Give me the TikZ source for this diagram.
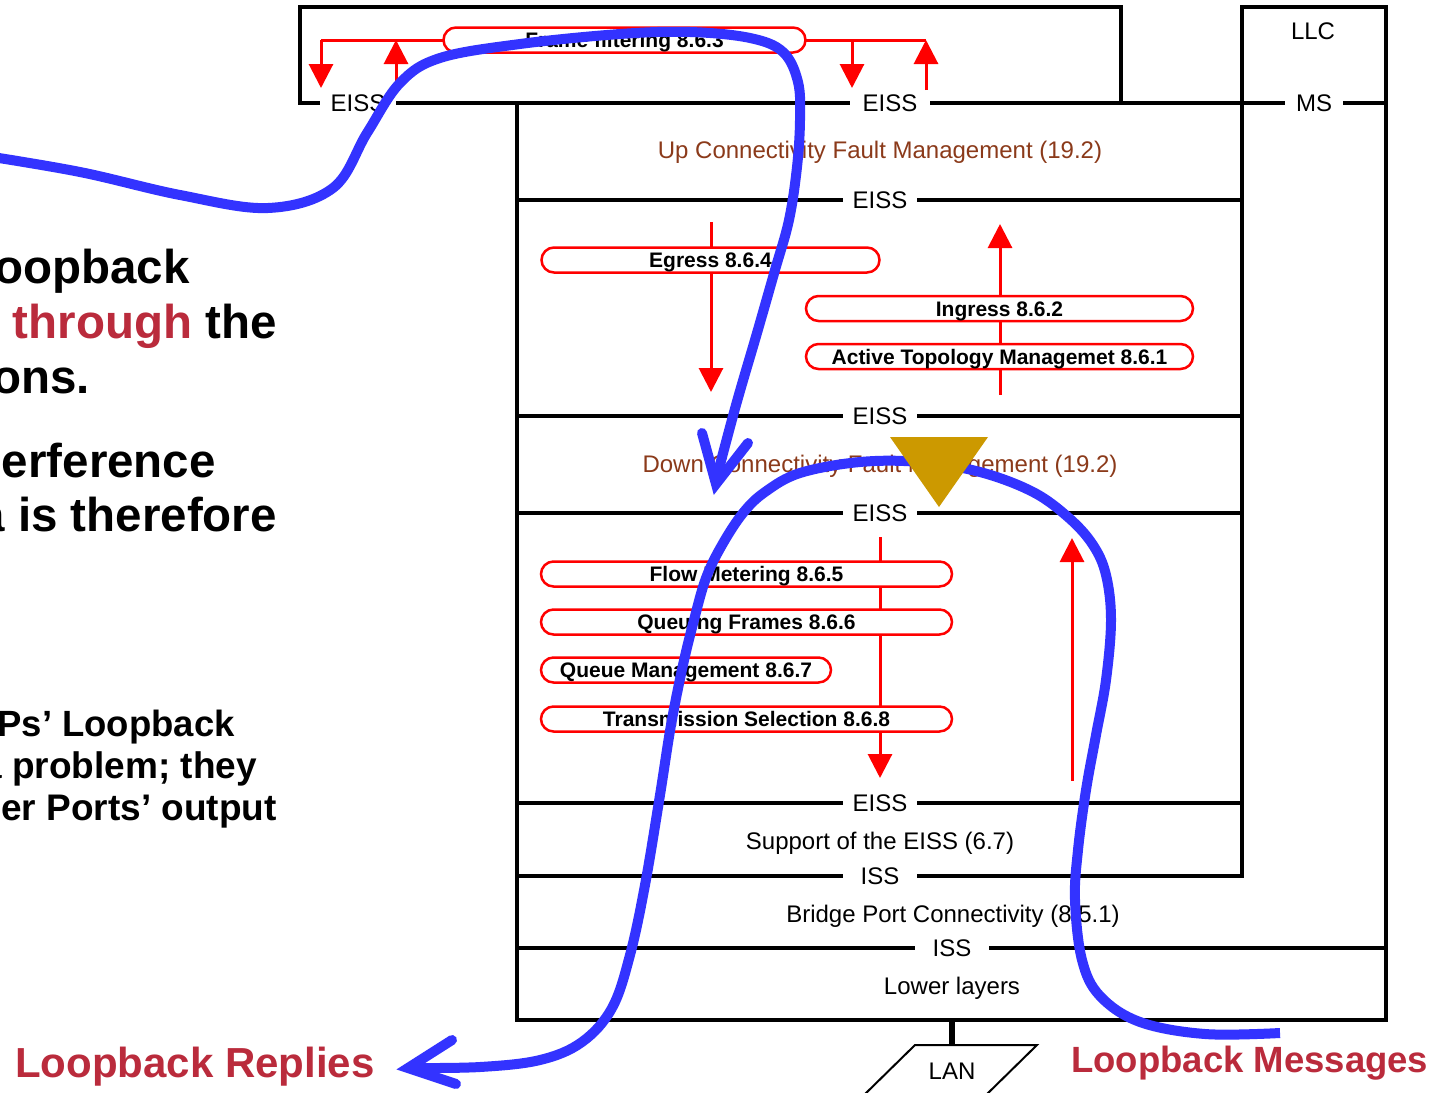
\documentclass[tikz,border=0pt]{standalone}
\usepackage{fontspec}
\setmainfont{Liberation Sans}
\usetikzlibrary{arrows.meta}
\definecolor{brn}{RGB}{139,58,26}
\definecolor{crim}{RGB}{186,43,60}
\definecolor{lpblue}{RGB}{51,51,255}
\definecolor{mepgold}{RGB}{204,153,0}
\begin{document}
\begin{tikzpicture}[x=1pt,y=-1pt,
  frameln/.style={line width=3.5pt, line cap=rect},
  lbl/.style={fill=white, inner xsep=0pt, inner ysep=1pt, minimum width=74pt, font=\fontsize{24}{26}\selectfont},
  cfm/.style={text=brn, anchor=base, inner sep=0pt, font=\fontsize{24}{26}\selectfont},
  plaintxt/.style={anchor=base, inner sep=0pt, font=\fontsize{24}{26}\selectfont},
  pill/.style={draw=red, line width=2.5pt, fill=white, rounded corners=12.5pt, minimum height=25pt, inner sep=0pt, text height=15pt, text depth=0pt, font=\bfseries\fontsize{21}{23}\selectfont},
  redln/.style={draw=red, line width=3pt},
  redarr/.style={redln, -{Triangle[width=24pt,length=24pt]}},
  loopln/.style={draw=lpblue, line width=10pt, line join=round},
  bigtxt/.style={font=\bfseries\fontsize{47.5}{50}\selectfont, anchor=base east, inner sep=0pt},
  midtxt/.style={font=\bfseries\fontsize{37}{40}\selectfont, anchor=base east, inner sep=0pt},
]
\useasboundingbox (0,0) rectangle (1437,1092);
\fill[white] (0,0) rectangle (1437,1092);

% ---------- black frame ----------
\draw[frameln] (300,103) -- (300,7) -- (1121,7) -- (1121,103);
\draw[frameln] (1242,876) -- (1242,7) -- (1386,7) -- (1386,1020) -- (517,1020) -- (517,103);
\draw[frameln] (300,103) -- (1386,103);
\draw[frameln] (517,200) -- (1242,200);
\draw[frameln] (517,416) -- (1242,416);
\draw[frameln] (517,513) -- (1242,513);
\draw[frameln] (517,803) -- (1242,803);
\draw[frameln] (517,876) -- (1242,876);
\draw[frameln] (517,948) -- (1386,948);

% ---------- interface labels ----------
\node[lbl, minimum width=76pt] (eissA) at (358,103.5) {EISS};
\node[lbl, minimum width=80pt] (eissB) at (890,103.5) {EISS};
\node[lbl, minimum width=58pt] (ms) at (1314,103.5) {MS};
\node[lbl] (eissC) at (880,200) {EISS};
\node[lbl] (eissD) at (880,416) {EISS};
\node[lbl] (eissE) at (880,513) {EISS};
\node[lbl] (eissF) at (880,803) {EISS};
\node[lbl] (issA) at (880,876) {ISS};
\node[lbl] (issB) at (952,948) {ISS};
\node[plaintxt] (llc) at (1313,39.6) {LLC};

% ---------- red flows ----------
\coordinate (ffL) at (321,40);
\coordinate (ffR) at (926,40);
\draw[redln] (ffL) -- (ffR);
\draw[redarr] (ffL) -- (321,88);
\draw[redarr] (396,88) -- (396,40);
\draw[redarr] (852,40) -- (852,88);
\draw[redarr] (926,90) -- (ffR);
\draw[redarr] (711,222) -- (711,392);
\draw[redarr] (1000,395) -- (1000,224);
\draw[redarr] (880,537) -- (880,778);
\draw[redarr] (1072,781) -- (1072,538);

% ---------- pills ----------
\node[pill, minimum width=362pt] (ff) at (624.5,40) {Frame filtering 8.6.3};
\node[pill, minimum width=338pt] (egr) at (710.5,260) {Egress 8.6.4};
\node[pill, minimum width=387pt] (ingr) at (999.5,308.5) {Ingress 8.6.2};
\node[pill, minimum width=387pt] (atm) at (999.5,356.5) {Active Topology Managemet 8.6.1};
\node[pill, minimum width=411pt] (fm) at (746.5,574) {Flow Metering 8.6.5};
\node[pill, minimum width=411pt] (qf) at (746.5,622) {Queuing Frames 8.6.6};
\node[pill, minimum width=290pt] (qm) at (686,670) {Queue Management 8.6.7};
\node[pill, minimum width=411pt] (ts) at (746.5,719) {Transmission Selection 8.6.8};

% ---------- layer texts ----------
\node[cfm] (upcfm) at (880,158.6) {Up Connectivity Fault Management (19.2)};
\node[cfm] (dncfm) at (880,472.6) {Down Connectivity Fault Management (19.2)};
\node[plaintxt] (supp) at (880,849) {Support of the EISS (6.7)};
\node[plaintxt] (bpc) at (953,922) {Bridge Port Connectivity (8.5.1)};
\node[plaintxt] (lower) at (952,994.5) {Lower layers};

% ---------- LAN ----------
\draw[line width=6pt] (952,1020) -- (952,1045);
\draw[line width=2pt, fill=white] (915,1045) -- (1037,1045) -- (985,1096) -- (863,1096) -- cycle;
\node[font=\fontsize{24}{26}\selectfont, inner sep=0pt] (lan) at (952,1071.5) {LAN};

% ---------- blue loopback paths ----------
\draw[loopln, line cap=round] plot[smooth, tension=0.6] coordinates {
  (-20,155) (80,172) (180,195) (268,208) (333,188) (367,133) (400,83) (440,58)
  (520,44) (620,34) (690,32) (750,38) (783,52) (798,82) (800,120) (797,167)
  (789,220) (775,270) (757,333) (736,405) (716,480)};
\draw[loopln, line cap=round, line join=miter] (702,433) -- (716,484) -- (748,443);

\draw[loopln, line cap=butt] plot[smooth, tension=0.6] coordinates {
  (1280,1033) (1205,1034) (1140,1022) (1100,996) (1082,960) (1075,900)
  (1078,850) (1086,790) (1096,735) (1106,680) (1111,620) (1106,575)
  (1093,545) (1069,518) (1033,492) (980,472) (920,462) (860,462) (800,473)
  (765,492) (743,513) (722,545) (706,578) (694,620) (683,665) (671,725)
  (660,795) (645,885) (630,955) (612,1008) (582,1042) (540,1060) (480,1067) (412,1068)};
\draw[loopln, line cap=round, line join=miter] (452,1040) -- (408,1068) -- (456,1084);

% ---------- MEP ----------
\fill[mepgold] (890,437) -- (988,437) -- (939,507) -- cycle;

% ---------- left texts ----------
\node[bigtxt] (l1) at (190,283) {oopback};
\node[bigtxt] (l2) at (277,338) {\textcolor{crim}{through} the};
\node[bigtxt] (l3) at (90,393) {ons.};
\node[bigtxt] (l4) at (216,477) {erference};
\node[bigtxt] (l5) at (277,531) {a is therefore};
\node[midtxt, font=\bfseries\fontsize{36.5}{40}\selectfont] (s1) at (235,736) {Ps’ Loopback};
\node[midtxt] (s2) at (257,778) {a problem; they};
\node[midtxt] (s3) at (277,820) {er Ports’ output};

% ---------- bottom labels ----------
\node[font=\bfseries\fontsize{42}{44}\selectfont, text=crim, anchor=base west, inner sep=0pt] (lrep) at (15,1077) {Loopback Replies};
\node[font=\bfseries\fontsize{36.5}{40}\selectfont, text=crim, anchor=base west, inner sep=0pt] (lmsg) at (1071,1072) {Loopback Messages};
\end{tikzpicture}
\end{document}
